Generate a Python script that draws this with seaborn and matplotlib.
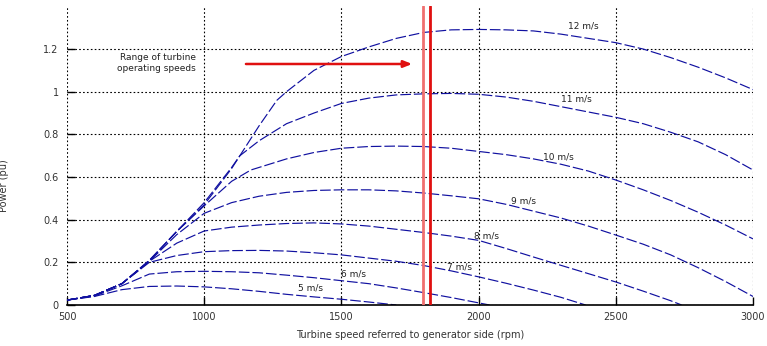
import matplotlib
matplotlib.use("Agg")
import matplotlib.pyplot as plt
import seaborn as sns
import pandas as pd

sns.set_style("white")
plt.rcParams['font.family'] = ['DejaVu Sans']

# ---- data ----
x5 = [500, 600, 700, 800, 900, 1000, 1100, 1200, 1300, 1400, 1500, 1600, 1700]
p5 = [0.023, 0.040, 0.072, 0.087, 0.089, 0.085, 0.076, 0.064, 0.050, 0.038, 0.027, 0.014, 0.0]

x6 = [500, 600, 700, 800, 900, 1000, 1100, 1200, 1300, 1400, 1500, 1600, 1700, 1800, 1900, 2000, 2040]
p6 = [0.023, 0.042, 0.090, 0.145, 0.156, 0.158, 0.156, 0.151, 0.140, 0.128, 0.114, 0.100, 0.080, 0.058, 0.035, 0.010, 0.0]

x7 = [500, 600, 700, 800, 900, 1000, 1100, 1200, 1300, 1400, 1500, 1600, 1700, 1800, 1900, 2000, 2100, 2200, 2300, 2390]
p7 = [0.023, 0.045, 0.100, 0.200, 0.232, 0.250, 0.255, 0.256, 0.253, 0.245, 0.235, 0.220, 0.205, 0.185, 0.160, 0.132, 0.102, 0.070, 0.036, 0.0]

x8 = [500, 600, 700, 800, 900, 1000, 1100, 1200, 1300, 1400, 1500, 1600, 1700, 1800, 1900, 2000,
      2100, 2200, 2300, 2400, 2500, 2600, 2700, 2740]
p8 = [0.023, 0.045, 0.100, 0.205, 0.290, 0.347, 0.365, 0.375, 0.382, 0.385, 0.380, 0.370, 0.355, 0.340, 0.323, 0.303,
      0.265, 0.225, 0.186, 0.147, 0.108, 0.065, 0.020, 0.0]

x9 = [500, 600, 700, 800, 900, 1000, 1100, 1200, 1300, 1400, 1500, 1600, 1700, 1800, 1900, 2000,
      2100, 2200, 2300, 2400, 2500, 2600, 2700, 2800, 2900, 3000]
p9 = [0.023, 0.045, 0.100, 0.205, 0.330, 0.430, 0.480, 0.510, 0.528, 0.537, 0.540, 0.540, 0.535, 0.525, 0.512, 0.498,
      0.472, 0.440, 0.408, 0.370, 0.328, 0.285, 0.235, 0.175, 0.110, 0.040]

x10 = [500, 600, 700, 800, 900, 1000, 1100, 1170, 1200, 1300, 1400, 1500, 1600, 1700, 1800, 1900, 2000,
       2100, 2200, 2300, 2400, 2500, 2600, 2700, 2800, 2900, 3000]
p10 = [0.023, 0.045, 0.100, 0.207, 0.345, 0.465, 0.580, 0.633, 0.645, 0.685, 0.715, 0.735, 0.743, 0.745, 0.743, 0.735, 0.720,
       0.705, 0.685, 0.660, 0.628, 0.586, 0.540, 0.490, 0.435, 0.375, 0.310]

x11 = [500, 600, 700, 800, 900, 1000, 1100, 1130, 1200, 1300, 1400, 1500, 1600, 1700, 1800, 1900, 2000,
       2100, 2200, 2300, 2400, 2500, 2600, 2700, 2800, 2900, 3000]
p11 = [0.023, 0.045, 0.100, 0.208, 0.345, 0.470, 0.640, 0.700, 0.770, 0.850, 0.900, 0.945, 0.970, 0.985, 0.990, 0.992, 0.988,
       0.975, 0.955, 0.930, 0.905, 0.880, 0.850, 0.810, 0.765, 0.705, 0.633]

x12 = [500, 600, 700, 800, 900, 1000, 1100, 1130, 1200, 1265, 1300, 1400, 1500, 1600, 1700, 1800, 1900, 2000,
       2100, 2200, 2300, 2400, 2500, 2600, 2700, 2800, 2900, 3000]
p12 = [0.023, 0.045, 0.100, 0.210, 0.345, 0.480, 0.645, 0.700, 0.840, 0.960, 1.000, 1.100, 1.165, 1.210, 1.250, 1.278, 1.290, 1.292,
       1.290, 1.285, 1.270, 1.250, 1.230, 1.200, 1.160, 1.115, 1.065, 1.010]

curve_x = [x5, x6, x7, x8, x9, x10, x11, x12]
curve_p = [p5, p6, p7, p8, p9, p10, p11, p12]
wind_labels = ["5 m/s", "6 m/s", "7 m/s", "8 m/s", "9 m/s", "10 m/s", "11 m/s", "12 m/s"]
label_x = [1386, 1543, 1932, 2029, 2163, 2290, 2357, 2380]
label_y = [0.078, 0.145, 0.180, 0.325, 0.489, 0.692, 0.966, 1.310]

range_low = 1797
range_high = 1824
arrow_start = (1142, 1.13)
arrow_end = (1768, 1.13)
range_text = "Range of turbine\noperating speeds"
range_text_pos = (970, 1.135)

xticks = [500, 1000, 1500, 2000, 2500, 3000]
yticks = [0, 0.2, 0.4, 0.6, 0.8, 1.0, 1.2]
ytick_labels = ["0", "0.2", "0.4", "0.6", "0.8", "1", "1.2"]

# ---- figure ----
fig = plt.figure(figsize=(7.67, 3.46), dpi=100)
ax = fig.add_axes([67 / 767, 1 - 305 / 346, (753 - 67) / 767, (305 - 6.4) / 346])

rows = []
for lab, xs, ps in zip(wind_labels, curve_x, curve_p):
    for xv, pv in zip(xs, ps):
        rows.append({"speed": xv, "power": pv, "wind": lab})
df = pd.DataFrame(rows)

blue = "#1010a0"
for lab in wind_labels:
    sub = df[df["wind"] == lab]
    sns.lineplot(data=sub, x="speed", y="power", ax=ax, color=blue, linewidth=0.85,
                 dashes=False, legend=False, estimator=None, sort=True)
for line in ax.get_lines():
    line.set_dashes([9, 2.5])

ax.set_xlim(500, 3000)
ax.set_ylim(0, 1.4)
ax.set_xticks(xticks)
ax.set_xticklabels([str(t) for t in xticks])
ax.set_yticks(yticks)
ax.set_yticklabels(ytick_labels)

ax.grid(True, which="major", color="black", linestyle=(0, (1.5, 2)), linewidth=0.8)
ax.set_axisbelow(True)
for s in ["top", "right", "left"]:
    ax.spines[s].set_visible(False)
ax.spines["bottom"].set_color("black")
ax.spines["bottom"].set_linewidth(1.2)
ax.tick_params(axis="both", direction="in", length=6, width=1.0, color="black",
               labelsize=7, labelcolor="#333333")
ax.tick_params(axis="y", left=True, pad=6)
ax.tick_params(axis="x", bottom=True, pad=5)

# vertical range lines and arrow
ax.axvline(range_low, color="#f07070", linewidth=2.0, zorder=3)
ax.axvline(range_high, color="#e01010", linewidth=2.0, zorder=3)
ax.annotate("", xy=arrow_end, xytext=arrow_start,
            arrowprops=dict(arrowstyle="-|>,head_length=0.5,head_width=0.2", color="#e01010", lw=1.8))
ax.text(range_text_pos[0], range_text_pos[1], range_text, ha="right", va="center",
        fontsize=6.5, color="#222222", linespacing=1.3)

for lab, lx, ly in zip(wind_labels, label_x, label_y):
    ax.text(lx, ly, lab, ha="center", va="center", fontsize=6.5, color="#222222")

ax.set_xlabel("Turbine speed referred to generator side (rpm)", fontsize=7, color="#333333", labelpad=6)
ax.set_ylabel("Power (pu)", fontsize=7, color="#333333")
ax.yaxis.set_label_coords(-0.085, 0.40)

fig.savefig("out.png", dpi=100)
